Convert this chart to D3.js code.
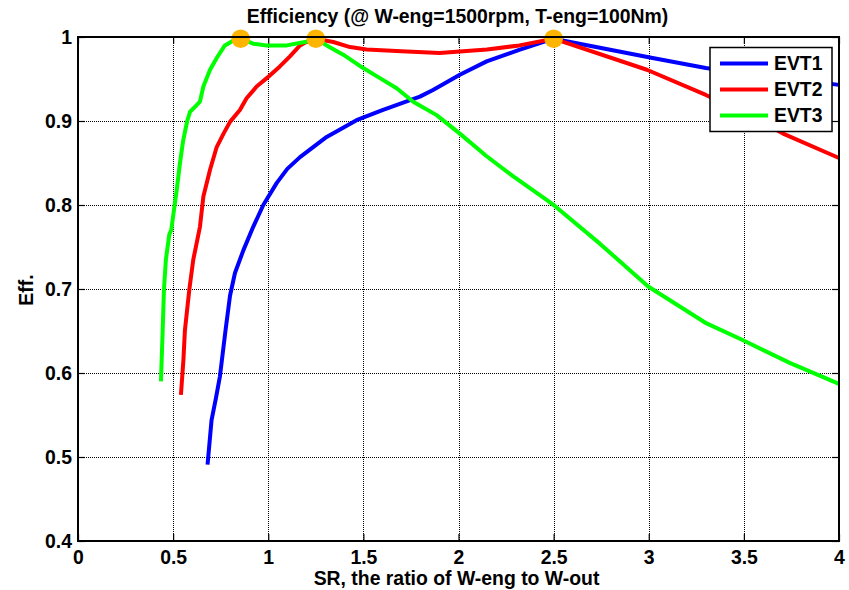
<!DOCTYPE html>
<html>
<head>
<meta charset="utf-8">
<script src="https://cdn.jsdelivr.net/npm/d3@7"></script>
<style>
  html, body { margin: 0; padding: 0; background: #fff; }
  svg text { font-family: Arial, "Liberation Sans", sans-serif; font-weight: bold; fill: #000; }
</style>
</head>
<body>
<svg id="chart" width="849" height="590"></svg>
<script>
// Efficiency versus speed ratio for three EVT configurations
const seriesNames = ["EVT1", "EVT2", "EVT3"];
const seriesColors = ["#0000ff", "#ff0000", "#00ff00"];

const evt1SR  = [0.681, 0.702, 0.725, 0.746, 0.775, 0.799, 0.825, 0.869, 0.921, 0.974, 1.044, 1.10, 1.167, 1.307, 1.464, 1.6, 1.797, 1.866, 2.007, 2.148, 2.323, 2.5, 3.02, 3.3, 3.5, 4.0];
const evt1Eff = [0.491, 0.544, 0.570, 0.596, 0.650, 0.692, 0.719, 0.746, 0.774, 0.800, 0.826, 0.843, 0.857, 0.881, 0.901, 0.913, 0.929, 0.937, 0.955, 0.971, 0.985, 0.998, 0.975, 0.963, 0.957, 0.943];

const evt2SR  = [0.541, 0.554, 0.562, 0.585, 0.606, 0.641, 0.659, 0.694, 0.729, 0.765, 0.799, 0.851, 0.886, 0.939, 0.992, 1.061, 1.114, 1.167, 1.20, 1.25, 1.342, 1.43, 1.517, 1.7, 1.9, 2.15, 2.32, 2.5, 2.99, 3.3, 3.5, 3.706, 4.0];
const evt2Eff = [0.574, 0.615, 0.651, 0.699, 0.735, 0.774, 0.810, 0.842, 0.869, 0.885, 0.899, 0.913, 0.927, 0.941, 0.951, 0.965, 0.977, 0.990, 0.994, 0.998, 0.994, 0.988, 0.985, 0.983, 0.981, 0.985, 0.990, 0.998, 0.961, 0.931, 0.910, 0.885, 0.856];

const evt3SR  = [0.436, 0.445, 0.452, 0.462, 0.48, 0.49, 0.508, 0.519, 0.536, 0.553, 0.574, 0.589, 0.62, 0.641, 0.659, 0.694, 0.729, 0.772, 0.81, 0.855, 0.921, 0.991, 1.097, 1.193, 1.25, 1.307, 1.394, 1.499, 1.587, 1.675, 1.762, 1.885, 2.007, 2.148, 2.288, 2.463, 2.5, 2.743, 2.997, 3.304, 3.496, 3.741, 4.0];
const evt3Eff = [0.590, 0.650, 0.700, 0.735, 0.765, 0.770, 0.800, 0.818, 0.850, 0.877, 0.900, 0.911, 0.918, 0.923, 0.941, 0.961, 0.975, 0.990, 0.995, 0.998, 0.992, 0.990, 0.990, 0.994, 0.998, 0.990, 0.979, 0.963, 0.951, 0.939, 0.923, 0.907, 0.885, 0.858, 0.834, 0.806, 0.800, 0.754, 0.703, 0.659, 0.639, 0.612, 0.587];

// Peak-efficiency markers
const peakSR  = [0.855, 1.25, 2.5];
const peakEff = [0.998, 0.998, 0.998];

const xTicks = [0, 0.5, 1, 1.5, 2, 2.5, 3, 3.5, 4];
const yTicks = [0.4, 0.5, 0.6, 0.7, 0.8, 0.9, 1];

const titleText = "Efficiency (@ W-eng=1500rpm, T-eng=100Nm)";
const xLabel = "SR, the ratio of W-eng to W-out";
const yLabel = "Eff.";

const margin = { left: 78, top: 37, right: 10, bottom: 49 };
const W = 849, H = 590;
const pw = W - margin.left - margin.right;   // 761
const ph = H - margin.top - margin.bottom;   // 504
const fontSize = 19.4;

const svg = d3.select("#chart");
const g = svg.append("g").attr("transform", `translate(${margin.left},${margin.top})`);

const x = d3.scaleLinear().domain([0, 4]).range([0, pw]);
const y = d3.scaleLinear().domain([0.4, 1]).range([ph, 0]);

// Dotted grid
const grid = g.append("g").attr("stroke", "#000").attr("stroke-width", 1).attr("stroke-dasharray", "1,1");
grid.selectAll("line.gx").data(xTicks.slice(1, -1)).enter().append("line")
  .attr("x1", d => Math.round(x(d)) + 0.5).attr("x2", d => Math.round(x(d)) + 0.5)
  .attr("y1", 0).attr("y2", ph);
grid.selectAll("line.gy").data(yTicks.slice(1, -1)).enter().append("line")
  .attr("y1", d => Math.round(y(d)) + 0.5).attr("y2", d => Math.round(y(d)) + 0.5)
  .attr("x1", 0).attr("x2", pw);

// Axes with inward ticks on all four sides
const fmt = d => String(d);
const axB = g.append("g").attr("transform", `translate(0,${ph})`)
  .call(d3.axisBottom(x).tickValues(xTicks).tickFormat(fmt).tickSize(-7).tickPadding(9));
const axT = g.append("g")
  .call(d3.axisTop(x).tickValues(xTicks).tickFormat("").tickSize(-7));
const axL = g.append("g")
  .call(d3.axisLeft(y).tickValues(yTicks).tickFormat(fmt).tickSize(-7).tickPadding(6));
const axR = g.append("g").attr("transform", `translate(${pw},0)`)
  .call(d3.axisRight(y).tickValues(yTicks).tickFormat("").tickSize(-7));
[axB, axT, axL, axR].forEach(a => {
  a.select(".domain").remove();
  a.selectAll(".tick line").attr("stroke", "#000").attr("stroke-width", 1.2);
  a.selectAll("text").attr("font-size", fontSize).attr("font-weight", "bold")
    .attr("font-family", "Arial, 'Liberation Sans', sans-serif").attr("fill", "#000");
});

// Curves
const series = [
  { name: seriesNames[0], color: seriesColors[0], xs: evt1SR, ys: evt1Eff },
  { name: seriesNames[1], color: seriesColors[1], xs: evt2SR, ys: evt2Eff },
  { name: seriesNames[2], color: seriesColors[2], xs: evt3SR, ys: evt3Eff }
];
const line = d3.line().x(d => x(d[0])).y(d => y(d[1]));
g.append("g").selectAll("path").data(series).enter().append("path")
  .attr("d", s => line(s.xs.map((v, i) => [v, s.ys[i]])))
  .attr("fill", "none").attr("stroke", s => s.color)
  .attr("stroke-width", 4).attr("stroke-linejoin", "round").attr("stroke-linecap", "butt");

// Peak markers
g.append("g").selectAll("circle").data(peakSR.map((v, i) => [v, peakEff[i]])).enter().append("circle")
  .attr("cx", d => x(d[0])).attr("cy", d => y(d[1])).attr("r", 9.3)
  .attr("fill", "#ffb400");

// Plot frame
g.append("rect").attr("x", 0).attr("y", 0).attr("width", pw).attr("height", ph)
  .attr("fill", "none").attr("stroke", "#000").attr("stroke-width", 2);

// Legend
const lg = svg.append("g").attr("transform", "translate(710,47.5)");
lg.append("rect").attr("width", 122).attr("height", 84)
  .attr("fill", "#fff").attr("stroke", "#000").attr("stroke-width", 1.5);
series.forEach((s, i) => {
  const yy = 16 + i * 26;
  lg.append("line").attr("x1", 10).attr("x2", 58).attr("y1", yy).attr("y2", yy)
    .attr("stroke", s.color).attr("stroke-width", 4);
  lg.append("text").attr("x", 64).attr("y", yy).attr("dy", "0.36em")
    .attr("font-size", fontSize).text(s.name);
});

// Titles
svg.append("text").attr("x", margin.left + pw / 2 - 1).attr("y", 23)
  .attr("text-anchor", "middle").attr("font-size", fontSize).text(titleText);
svg.append("text").attr("x", margin.left + pw / 2 - 2).attr("y", 585)
  .attr("text-anchor", "middle").attr("font-size", fontSize).text(xLabel);
svg.append("text").attr("transform", "translate(33,290) rotate(-90)")
  .attr("text-anchor", "middle").attr("font-size", fontSize).text(yLabel);
</script>
</body>
</html>
